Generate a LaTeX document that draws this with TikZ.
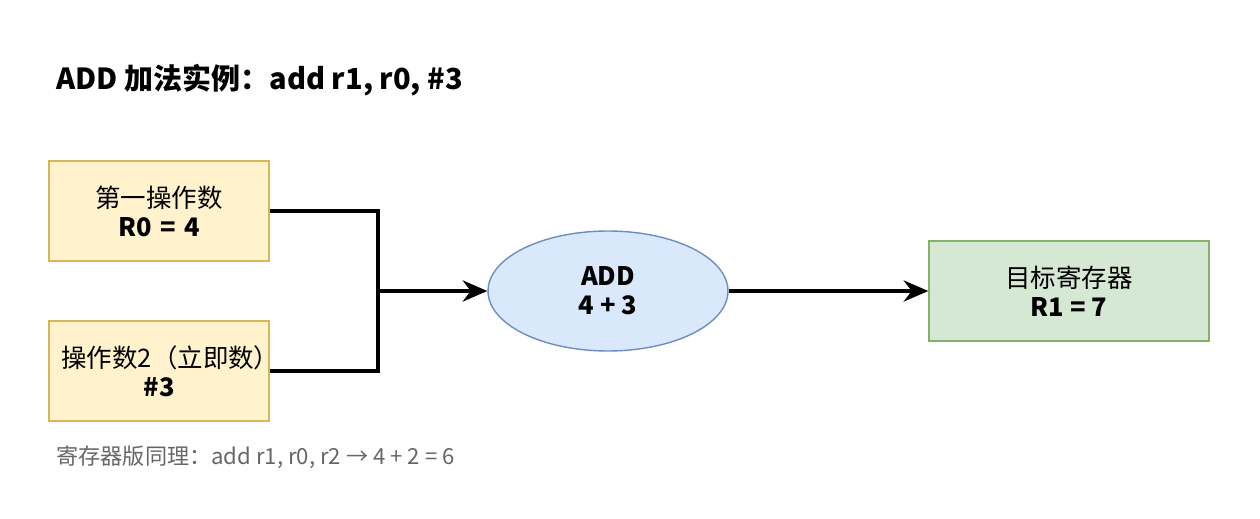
\documentclass[tikz,border=0pt]{standalone}
\usepackage{fontspec}
\setmainfont{Noto Sans CJK SC}
\usetikzlibrary{shapes.geometric, arrows.meta, positioning}
\definecolor{opfill}{HTML}{FFF2CC}
\definecolor{opdraw}{HTML}{D6B656}
\definecolor{alufill}{HTML}{DAE8FC}
\definecolor{aludraw}{HTML}{6C8EBF}
\definecolor{regfill}{HTML}{D5E8D4}
\definecolor{regdraw}{HTML}{82B366}
\definecolor{notegray}{HTML}{666666}

\begin{document}
\begin{tikzpicture}[x=0.02cm, y=-0.02cm,
  font=\fontsize{14.5}{16.5}\selectfont,
  operand/.style={rectangle, draw=opdraw, fill=opfill, minimum width=4.4cm, minimum height=2cm, text width=3.9cm, align=center, inner sep=0pt},
  alu/.style={ellipse, draw=aludraw, fill=alufill, minimum width=4.8cm, minimum height=2.4cm, align=center, inner sep=0pt},
  dest/.style={rectangle, draw=regdraw, fill=regfill, minimum width=5.6cm, minimum height=2cm, align=center, inner sep=0pt},
  line/.style={line width=2.2pt},
  wire/.style={line, -{Stealth[length=14pt, width=12pt]}},
  thick]

  \path[use as bounding box] (0,0) rectangle (1260,518);

  \node[anchor=west, font=\fontsize{16.5}{19}\selectfont\bfseries] (title) at (50,80) {ADD 加法实例：add r1, r0, \#3};

  \node[operand] (op1) at (159,211) {第一操作数\\\textbf{R0 = 4}};
  \node[operand] (op2) at (159,371) {操作数2（立即数）\\\textbf{\#3}};
  \node[alu] (add) at (608,291) {\textbf{ADD}\\\textbf{4 + 3}};
  \node[dest] (r1) at (1069,291) {目标寄存器\\\textbf{R1 = 7}};

  \coordinate (join) at (378,291);

  \draw[line] (op1.east) -| (join);
  \draw[line] (op2.east) -| (join);
  \draw[wire] (join) -- (add.west);
  \draw[wire] (add.east) -- (r1.west);

  \node[anchor=west, text=notegray, font=\fontsize{12.6}{15}\selectfont] (note) at (50,457) {寄存器版同理：add r1, r0, r2 → 4 + 2 = 6};
\end{tikzpicture}
\end{document}
